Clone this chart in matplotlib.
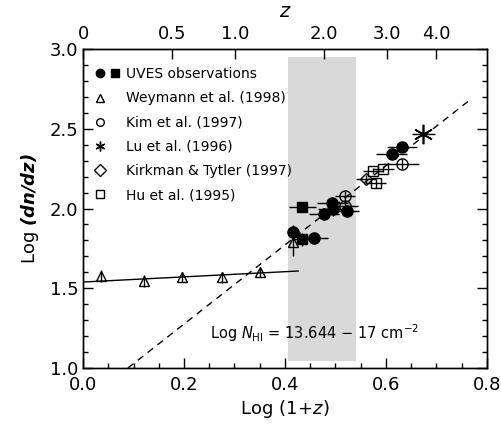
import matplotlib
matplotlib.use("Agg")
import matplotlib.pyplot as plt
from matplotlib.legend_handler import HandlerTuple
from matplotlib.lines import Line2D
import numpy as np

plt.rcParams['font.family'] = ['DejaVu Sans']
plt.rcParams['mathtext.fontset'] = 'dejavusans'

# ---- data (log(1+z), log dn/dz, errors) ----
uves_c_x = [0.416, 0.458, 0.477, 0.494, 0.496, 0.522, 0.611, 0.632]
uves_c_y = [1.855, 1.815, 1.965, 2.033, 1.995, 1.984, 2.340, 2.385]
uves_c_xe = [0.010, 0.028, 0.030, 0.030, 0.030, 0.025, 0.030, 0.030]
uves_c_ye = [0.040, 0.040, 0.040, 0.040, 0.040, 0.040, 0.030, 0.030]

uves_s_x = [0.434, 0.434]
uves_s_y = [2.007, 1.807]
uves_s_xe = [0.027, 0.020]
uves_s_ye = [0.030, 0.040]

wey_x = [0.036, 0.121, 0.196, 0.275, 0.350, 0.415]
wey_y = [1.577, 1.546, 1.570, 1.570, 1.600, 1.790]
wey_ye = [0.040, 0.040, 0.030, 0.035, 0.030, 0.090]

kim_x = [0.519, 0.519, 0.631]
kim_y = [2.078, 2.015, 2.279]
kim_xe = [0.020, 0.025, 0.035]
kim_ye = [0.030, 0.030, 0.030]

lu_x = [0.674]
lu_y = [2.467]
lu_xe = [0.023]
lu_ye = [0.020]

kt_x = [0.561]
kt_y = [2.182]
kt_xe = [0.020]
kt_ye = [0.030]

hu_x = [0.575, 0.595, 0.580]
hu_y = [2.235, 2.246, 2.158]
hu_xe = [0.020, 0.020, 0.020]
hu_ye = [0.020, 0.020, 0.030]

# fits
wey_fit_x = [0.0, 0.426]
wey_fit_y = [1.539, 1.608]
pow_fit_x = [0.089, 0.770]
pow_fit_y = [1.000, 2.690]

# shaded redshift range of the UVES sample
box_x = [0.406, 0.541]
box_y = [1.045, 2.950]

top_z = [0, 0.5, 1.0, 2.0, 3.0, 4.0]
top_labels = ['0', '0.5', '1.0', '2.0', '3.0', '4.0']

fig = plt.figure(figsize=(5.01, 4.30), dpi=100)
ax = fig.add_axes([0.1657, 0.1442, 0.8063, 0.7418])

ax.fill_between(box_x, box_y[0], box_y[1], color='#d9d9d9', lw=0, zorder=0)

ax.plot(wey_fit_x, wey_fit_y, color='black', lw=1, zorder=2)
ax.plot(pow_fit_x, pow_fit_y, color='black', lw=1, ls=(0, (5, 4)), zorder=2)

eb = dict(ls='none', ecolor='black', elinewidth=1, capsize=0, zorder=3)
ax.errorbar(wey_x, wey_y, yerr=wey_ye, marker='^', ms=7, mfc='none',
            mec='black', mew=1, **eb)
ax.errorbar(uves_c_x, uves_c_y, xerr=uves_c_xe, yerr=uves_c_ye, marker='o',
            ms=8, mfc='black', mec='black', **eb)
ax.errorbar(uves_s_x, uves_s_y, xerr=uves_s_xe, yerr=uves_s_ye, marker='s',
            ms=7, mfc='black', mec='black', **eb)
ax.errorbar(kim_x, kim_y, xerr=kim_xe, yerr=kim_ye, marker='o', ms=8,
            mfc='none', mec='black', mew=1, **eb)
ax.errorbar(lu_x, lu_y, xerr=lu_xe, yerr=lu_ye, marker=(6, 2, 0), ms=14,
            mec='black', mew=1.2, **eb)
ax.errorbar(kt_x, kt_y, xerr=kt_xe, yerr=kt_ye, marker='D', ms=6,
            mfc='none', mec='black', mew=1, **eb)
ax.errorbar(hu_x, hu_y, xerr=hu_xe, yerr=hu_ye, marker='s', ms=7,
            mfc='none', mec='black', mew=1, **eb)

ax.text(0.251, 1.22, r'Log $N_{\mathrm{HI}}$ = 13.644 $-$ 17 cm$^{-2}$',
        fontsize=10.5, va='center', ha='left')

# axes setup
ax.set_xlim(0, 0.8)
ax.set_ylim(1.0, 3.0)
ax.set_xticks(np.arange(0, 0.81, 0.2))
ax.set_xticks(np.arange(0, 0.81, 0.05), minor=True)
ax.set_yticks(np.arange(1.0, 3.01, 0.5))
ax.set_yticks(np.arange(1.0, 3.01, 0.1), minor=True)
ax.xaxis.set_major_formatter(matplotlib.ticker.FormatStrFormatter('%.1f'))
ax.yaxis.set_major_formatter(matplotlib.ticker.FormatStrFormatter('%.1f'))
ax.tick_params(which='both', direction='in', right=True, top=False,
               labelsize=13, width=1)
ax.tick_params(which='major', length=7)
ax.tick_params(which='minor', length=3.5)
ax.tick_params(axis='x', pad=6)
ax.set_xlabel(r'Log $(1\!+\!z)$', fontsize=13, labelpad=3)
ax.set_ylabel(r'Log $\mathbfit{(dn/dz)}$', fontsize=13, labelpad=6)

top = ax.twiny()
top.set_xlim(ax.get_xlim())
top.set_xticks(np.log10(1 + np.array(top_z)))
top.set_xticklabels(top_labels)
top.tick_params(direction='in', length=7, width=1, labelsize=13, pad=4)
top.set_xlabel(r'$z$', fontsize=14, labelpad=6)

for a in (ax, top):
    for s in a.spines.values():
        s.set_linewidth(1)

# legend: single symbols sit in the left slot, like the UVES pair
blank = Line2D([], [], ls='none', marker='s', ms=5.5, alpha=0)
h_uves = (Line2D([], [], ls='none', marker='o', ms=6, color='black'),
          Line2D([], [], ls='none', marker='s', ms=5.5, color='black'))
h_wey = (Line2D([], [], ls='none', marker='^', ms=5.5, mfc='none', mec='black'), blank)
h_kim = (Line2D([], [], ls='none', marker='o', ms=5.5, mfc='none', mec='black'), blank)
h_lu = (Line2D([], [], ls='none', marker=(6, 2, 0), ms=7, mec='black'), blank)
h_kt = (Line2D([], [], ls='none', marker='D', ms=6, mfc='none', mec='black'), blank)
h_hu = (Line2D([], [], ls='none', marker='s', ms=5.5, mfc='none', mec='black'), blank)
ax.legend([h_uves, h_wey, h_kim, h_lu, h_kt, h_hu],
          ['UVES observations', 'Weymann et al. (1998)', 'Kim et al. (1997)',
           'Lu et al. (1996)', 'Kirkman & Tytler (1997)', 'Hu et al. (1995)'],
          handler_map={tuple: HandlerTuple(ndivide=None, pad=0.6)},
          loc='upper left', bbox_to_anchor=(0.02, 0.96), frameon=False,
          fontsize=10, labelspacing=0.73, handlelength=1.6, handletextpad=0.5,
          borderaxespad=0)

fig.savefig('out.png', dpi=100)
